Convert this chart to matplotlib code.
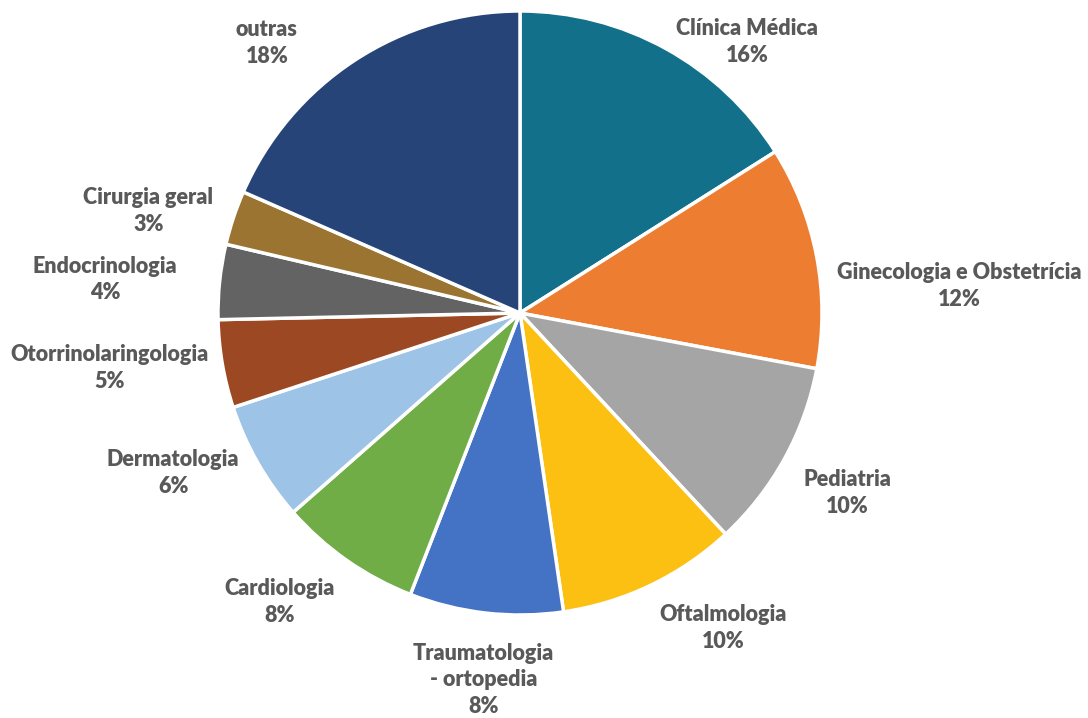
import numpy as np
import matplotlib.pyplot as plt

# especialidades e participação (%)
especialidades = ['Clínica Médica', 'Ginecologia e Obstetrícia', 'Pediatria', 'Oftalmologia',
                  'Traumatologia\n- ortopedia', 'Cardiologia', 'Dermatologia',
                  'Otorrinolaringologia', 'Endocrinologia', 'Cirurgia geral', 'outras']
valores = [16.0, 11.9, 10.1, 9.6, 8.2, 7.6, 6.4, 4.7, 4.0, 2.9, 18.4]
cores = ['#12708A', '#ED7D31', '#A5A5A5', '#FBC012', '#4472C4', '#70AD47',
         '#9DC3E6', '#9C4822', '#636363', '#9A7430', '#264478']

plt.rcParams['font.family'] = ['Lato', 'DejaVu Sans']

fig = plt.figure(figsize=(10.88, 7.18), dpi=100)
R = 302
ax = fig.add_axes([(520 - 1.5 * R) / 1088, (718 - 313 - 1.5 * R) / 718,
                   3 * R / 1088, 3 * R / 718])

labels = [f'{n}\n{round(v)}%' for n, v in zip(especialidades, valores)]
wedges, texts = ax.pie(valores, labels=labels, colors=cores, startangle=90,
                       counterclock=False, labeldistance=1.07,
                       wedgeprops=dict(edgecolor='white', linewidth=2.5),
                       textprops=dict(fontsize=15.5, fontweight='heavy', color='#595959',
                                      linespacing=1.35))

# ajustes finos dos rótulos (em unidades do raio)
ajustes = {0: (0, 0.04), 1: (0, -0.033), 4: (0, -0.028), 7: (0.023, 0),
           8: (-0.07, 0), 10: (-0.15, 0)}

# posicionamento dos rótulos parecido com o "melhor ajuste" do Excel
for i, t in enumerate(texts):
    t.set_multialignment('center')
    x, y = t.get_position()
    if abs(x) < 0.25:
        t.set_horizontalalignment('center')
        t.set_verticalalignment('top' if y < 0 else 'bottom')
    elif x > 0:
        t.set_horizontalalignment('left')
        t.set_verticalalignment('top')
    else:
        t.set_horizontalalignment('right')
        t.set_verticalalignment('top' if y < -0.6 else 'center')
    dx, dy = ajustes.get(i, (0, 0))
    t.set_position((x + dx, y + dy))

ax.set_xlim(-1.5, 1.5)
ax.set_ylim(-1.5, 1.5)
ax.set_aspect('equal')
ax.axis('off')

fig.savefig('out.png', dpi=100)
